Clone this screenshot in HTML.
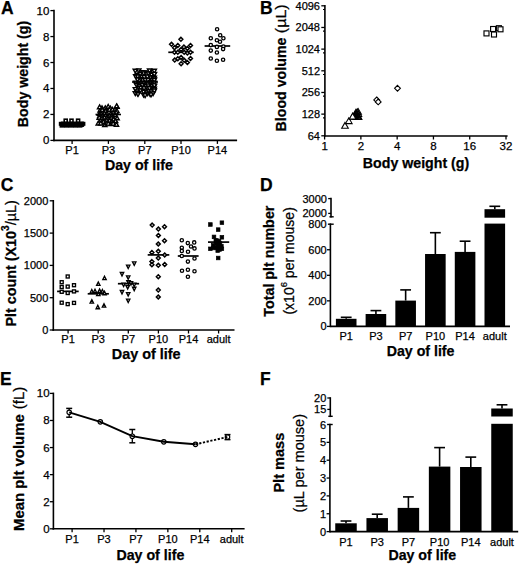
<!DOCTYPE html>
<html><head><meta charset="utf-8"><style>
html,body{margin:0;padding:0;background:#fff;}
body{width:520px;height:565px;overflow:hidden;}
svg{display:block;}
text{font-family:"Liberation Sans",sans-serif;fill:#000;stroke:#000;stroke-width:0.25px;}
line{stroke:#000;}
</style></head><body>
<svg width="520" height="565" viewBox="0 0 520 565">
<text x="1.00" y="14.30" font-size="17.5" font-weight="bold" text-anchor="start" >A</text>
<line x1="54.00" y1="10.60" x2="54.00" y2="140.40" stroke-width="1.6" stroke-linecap="square"/>
<line x1="50.40" y1="140.40" x2="54.00" y2="140.40" stroke-width="1.3" />
<text x="49.30" y="144.40" font-size="11.5" font-weight="normal" text-anchor="end" >0</text>
<line x1="50.40" y1="114.44" x2="54.00" y2="114.44" stroke-width="1.3" />
<text x="49.30" y="118.44" font-size="11.5" font-weight="normal" text-anchor="end" >2</text>
<line x1="50.40" y1="88.48" x2="54.00" y2="88.48" stroke-width="1.3" />
<text x="49.30" y="92.48" font-size="11.5" font-weight="normal" text-anchor="end" >4</text>
<line x1="50.40" y1="62.52" x2="54.00" y2="62.52" stroke-width="1.3" />
<text x="49.30" y="66.52" font-size="11.5" font-weight="normal" text-anchor="end" >6</text>
<line x1="50.40" y1="36.56" x2="54.00" y2="36.56" stroke-width="1.3" />
<text x="49.30" y="40.56" font-size="11.5" font-weight="normal" text-anchor="end" >8</text>
<line x1="50.40" y1="10.60" x2="54.00" y2="10.60" stroke-width="1.3" />
<text x="49.30" y="14.60" font-size="11.5" font-weight="normal" text-anchor="end" >10</text>
<line x1="54.00" y1="140.40" x2="236.30" y2="140.40" stroke-width="1.6" stroke-linecap="square"/>
<line x1="72.10" y1="140.40" x2="72.10" y2="143.90" stroke-width="1.3" />
<text x="72.10" y="154.00" font-size="11" font-weight="normal" text-anchor="middle" >P1</text>
<line x1="108.40" y1="140.40" x2="108.40" y2="143.90" stroke-width="1.3" />
<text x="108.40" y="154.00" font-size="11" font-weight="normal" text-anchor="middle" >P3</text>
<line x1="144.80" y1="140.40" x2="144.80" y2="143.90" stroke-width="1.3" />
<text x="144.80" y="154.00" font-size="11" font-weight="normal" text-anchor="middle" >P7</text>
<line x1="181.00" y1="140.40" x2="181.00" y2="143.90" stroke-width="1.3" />
<text x="181.00" y="154.00" font-size="11" font-weight="normal" text-anchor="middle" >P10</text>
<line x1="217.40" y1="140.40" x2="217.40" y2="143.90" stroke-width="1.3" />
<text x="217.40" y="154.00" font-size="11" font-weight="normal" text-anchor="middle" >P14</text>
<text x="138.90" y="169.60" font-size="14.2" font-weight="bold" text-anchor="middle" >Day of life</text>
<text transform="translate(27.60,127.20) rotate(-90)" font-size="14.2" font-weight="bold" text-anchor="start">Body weight (g)</text>
<rect x="60.5" y="121.6" width="23.8" height="5.3" rx="1" fill="#000"/>
<rect x="60.30" y="123.50" width="3.40" height="3.40" fill="#000" stroke="#000" stroke-width="1.5"/>
<rect x="64.80" y="123.50" width="3.40" height="3.40" fill="#000" stroke="#000" stroke-width="1.5"/>
<rect x="69.30" y="123.50" width="3.40" height="3.40" fill="#000" stroke="#000" stroke-width="1.5"/>
<rect x="73.80" y="123.50" width="3.40" height="3.40" fill="#000" stroke="#000" stroke-width="1.5"/>
<rect x="78.30" y="123.50" width="3.40" height="3.40" fill="#000" stroke="#000" stroke-width="1.5"/>
<rect x="59.50" y="122.50" width="2.60" height="2.60" fill="#000" stroke="#000" stroke-width="1.4"/>
<rect x="82.10" y="122.50" width="2.60" height="2.60" fill="#000" stroke="#000" stroke-width="1.4"/>
<rect x="64.20" y="119.20" width="3.00" height="3.00" fill="#fff" stroke="#000" stroke-width="1.6"/>
<rect x="70.00" y="119.20" width="3.00" height="3.00" fill="#fff" stroke="#000" stroke-width="1.6"/>
<rect x="76.60" y="119.20" width="3.00" height="3.00" fill="#fff" stroke="#000" stroke-width="1.6"/>
<line x1="59.00" y1="123.30" x2="85.00" y2="123.30" stroke-width="1.8" />
<path d="M101.99,105.89L104.14,109.63L99.84,109.63Z" fill="#fff" stroke="#000" stroke-width="1.4" stroke-linejoin="miter"/>
<path d="M105.30,105.79L107.45,109.53L103.15,109.53Z" fill="#fff" stroke="#000" stroke-width="1.4" stroke-linejoin="miter"/>
<path d="M108.21,104.51L110.36,108.25L106.06,108.25Z" fill="#fff" stroke="#000" stroke-width="1.4" stroke-linejoin="miter"/>
<path d="M110.34,106.15L112.49,109.89L108.19,109.89Z" fill="#fff" stroke="#000" stroke-width="1.4" stroke-linejoin="miter"/>
<path d="M117.02,104.66L119.17,108.40L114.87,108.40Z" fill="#fff" stroke="#000" stroke-width="1.4" stroke-linejoin="miter"/>
<path d="M100.18,108.24L102.33,111.98L98.03,111.98Z" fill="#fff" stroke="#000" stroke-width="1.4" stroke-linejoin="miter"/>
<path d="M102.17,107.60L104.32,111.34L100.02,111.34Z" fill="#fff" stroke="#000" stroke-width="1.4" stroke-linejoin="miter"/>
<path d="M105.60,108.85L107.75,112.60L103.45,112.60Z" fill="#fff" stroke="#000" stroke-width="1.4" stroke-linejoin="miter"/>
<path d="M109.43,107.49L111.58,111.23L107.28,111.23Z" fill="#fff" stroke="#000" stroke-width="1.4" stroke-linejoin="miter"/>
<path d="M112.43,107.46L114.58,111.20L110.28,111.20Z" fill="#fff" stroke="#000" stroke-width="1.4" stroke-linejoin="miter"/>
<path d="M115.06,107.43L117.21,111.17L112.91,111.17Z" fill="#fff" stroke="#000" stroke-width="1.4" stroke-linejoin="miter"/>
<path d="M116.90,108.77L119.05,112.51L114.75,112.51Z" fill="#fff" stroke="#000" stroke-width="1.4" stroke-linejoin="miter"/>
<path d="M99.47,111.53L101.62,115.27L97.32,115.27Z" fill="#fff" stroke="#000" stroke-width="1.4" stroke-linejoin="miter"/>
<path d="M101.17,111.69L103.32,115.43L99.02,115.43Z" fill="#fff" stroke="#000" stroke-width="1.4" stroke-linejoin="miter"/>
<path d="M104.57,111.18L106.72,114.92L102.42,114.92Z" fill="#fff" stroke="#000" stroke-width="1.4" stroke-linejoin="miter"/>
<path d="M106.92,111.65L109.07,115.39L104.77,115.39Z" fill="#fff" stroke="#000" stroke-width="1.4" stroke-linejoin="miter"/>
<path d="M110.74,111.70L112.89,115.44L108.59,115.44Z" fill="#fff" stroke="#000" stroke-width="1.4" stroke-linejoin="miter"/>
<path d="M114.06,110.49L116.21,114.23L111.91,114.23Z" fill="#fff" stroke="#000" stroke-width="1.4" stroke-linejoin="miter"/>
<path d="M116.05,110.25L118.20,114.00L113.90,114.00Z" fill="#fff" stroke="#000" stroke-width="1.4" stroke-linejoin="miter"/>
<path d="M99.74,113.79L101.89,117.53L97.59,117.53Z" fill="#fff" stroke="#000" stroke-width="1.4" stroke-linejoin="miter"/>
<path d="M102.16,113.93L104.31,117.67L100.01,117.67Z" fill="#fff" stroke="#000" stroke-width="1.4" stroke-linejoin="miter"/>
<path d="M105.71,113.26L107.86,117.00L103.56,117.00Z" fill="#fff" stroke="#000" stroke-width="1.4" stroke-linejoin="miter"/>
<path d="M109.52,113.57L111.67,117.31L107.37,117.31Z" fill="#fff" stroke="#000" stroke-width="1.4" stroke-linejoin="miter"/>
<path d="M111.57,113.57L113.72,117.31L109.42,117.31Z" fill="#fff" stroke="#000" stroke-width="1.4" stroke-linejoin="miter"/>
<path d="M115.22,112.81L117.37,116.55L113.07,116.55Z" fill="#fff" stroke="#000" stroke-width="1.4" stroke-linejoin="miter"/>
<path d="M99.22,115.49L101.37,119.23L97.07,119.23Z" fill="#fff" stroke="#000" stroke-width="1.4" stroke-linejoin="miter"/>
<path d="M102.07,116.11L104.22,119.86L99.92,119.86Z" fill="#fff" stroke="#000" stroke-width="1.4" stroke-linejoin="miter"/>
<path d="M104.64,115.47L106.79,119.21L102.49,119.21Z" fill="#fff" stroke="#000" stroke-width="1.4" stroke-linejoin="miter"/>
<path d="M106.63,115.78L108.78,119.52L104.48,119.52Z" fill="#fff" stroke="#000" stroke-width="1.4" stroke-linejoin="miter"/>
<path d="M111.22,115.81L113.37,119.55L109.07,119.55Z" fill="#fff" stroke="#000" stroke-width="1.4" stroke-linejoin="miter"/>
<path d="M113.81,117.13L115.96,120.87L111.66,120.87Z" fill="#fff" stroke="#000" stroke-width="1.4" stroke-linejoin="miter"/>
<path d="M117.10,116.08L119.25,119.82L114.95,119.82Z" fill="#fff" stroke="#000" stroke-width="1.4" stroke-linejoin="miter"/>
<path d="M100.60,118.40L102.75,122.14L98.45,122.14Z" fill="#fff" stroke="#000" stroke-width="1.4" stroke-linejoin="miter"/>
<path d="M103.50,119.64L105.65,123.38L101.35,123.38Z" fill="#fff" stroke="#000" stroke-width="1.4" stroke-linejoin="miter"/>
<path d="M106.65,118.27L108.80,122.01L104.50,122.01Z" fill="#fff" stroke="#000" stroke-width="1.4" stroke-linejoin="miter"/>
<path d="M109.75,118.37L111.90,122.11L107.60,122.11Z" fill="#fff" stroke="#000" stroke-width="1.4" stroke-linejoin="miter"/>
<path d="M111.61,119.30L113.76,123.05L109.46,123.05Z" fill="#fff" stroke="#000" stroke-width="1.4" stroke-linejoin="miter"/>
<path d="M115.60,118.82L117.75,122.56L113.45,122.56Z" fill="#fff" stroke="#000" stroke-width="1.4" stroke-linejoin="miter"/>
<path d="M98.27,121.27L100.42,125.02L96.12,125.02Z" fill="#fff" stroke="#000" stroke-width="1.4" stroke-linejoin="miter"/>
<path d="M100.79,121.22L102.94,124.96L98.64,124.96Z" fill="#fff" stroke="#000" stroke-width="1.4" stroke-linejoin="miter"/>
<path d="M104.84,122.75L106.99,126.49L102.69,126.49Z" fill="#fff" stroke="#000" stroke-width="1.4" stroke-linejoin="miter"/>
<path d="M106.84,121.04L108.99,124.78L104.69,124.78Z" fill="#fff" stroke="#000" stroke-width="1.4" stroke-linejoin="miter"/>
<path d="M111.28,121.92L113.43,125.66L109.13,125.66Z" fill="#fff" stroke="#000" stroke-width="1.4" stroke-linejoin="miter"/>
<path d="M113.18,121.38L115.33,125.12L111.03,125.12Z" fill="#fff" stroke="#000" stroke-width="1.4" stroke-linejoin="miter"/>
<path d="M116.47,122.44L118.62,126.18L114.32,126.18Z" fill="#fff" stroke="#000" stroke-width="1.4" stroke-linejoin="miter"/>
<path d="M99.60,104.96L101.75,108.70L97.45,108.70Z" fill="#fff" stroke="#000" stroke-width="1.4" stroke-linejoin="miter"/>
<path d="M116.60,103.96L118.75,107.70L114.45,107.70Z" fill="#fff" stroke="#000" stroke-width="1.4" stroke-linejoin="miter"/>
<path d="M108.20,121.36L110.35,125.10L106.05,125.10Z" fill="#fff" stroke="#000" stroke-width="1.4" stroke-linejoin="miter"/>
<line x1="95.50" y1="114.50" x2="121.00" y2="114.50" stroke-width="1.6" />
<path d="M135.28,72.92L137.43,69.18L133.13,69.18Z" fill="#fff" stroke="#000" stroke-width="1.4" stroke-linejoin="miter"/>
<path d="M138.82,72.77L140.97,69.03L136.67,69.03Z" fill="#fff" stroke="#000" stroke-width="1.4" stroke-linejoin="miter"/>
<path d="M141.56,74.50L143.71,70.76L139.41,70.76Z" fill="#fff" stroke="#000" stroke-width="1.4" stroke-linejoin="miter"/>
<path d="M143.65,74.76L145.80,71.02L141.50,71.02Z" fill="#fff" stroke="#000" stroke-width="1.4" stroke-linejoin="miter"/>
<path d="M146.57,74.63L148.72,70.88L144.42,70.88Z" fill="#fff" stroke="#000" stroke-width="1.4" stroke-linejoin="miter"/>
<path d="M149.58,72.81L151.73,69.07L147.43,69.07Z" fill="#fff" stroke="#000" stroke-width="1.4" stroke-linejoin="miter"/>
<path d="M153.16,74.13L155.31,70.39L151.01,70.39Z" fill="#fff" stroke="#000" stroke-width="1.4" stroke-linejoin="miter"/>
<path d="M154.30,73.05L156.45,69.31L152.15,69.31Z" fill="#fff" stroke="#000" stroke-width="1.4" stroke-linejoin="miter"/>
<path d="M137.33,77.20L139.48,73.46L135.18,73.46Z" fill="#fff" stroke="#000" stroke-width="1.4" stroke-linejoin="miter"/>
<path d="M140.19,76.21L142.34,72.47L138.04,72.47Z" fill="#fff" stroke="#000" stroke-width="1.4" stroke-linejoin="miter"/>
<path d="M143.86,75.58L146.01,71.84L141.71,71.84Z" fill="#fff" stroke="#000" stroke-width="1.4" stroke-linejoin="miter"/>
<path d="M146.60,76.02L148.75,72.27L144.45,72.27Z" fill="#fff" stroke="#000" stroke-width="1.4" stroke-linejoin="miter"/>
<path d="M148.26,75.71L150.41,71.97L146.11,71.97Z" fill="#fff" stroke="#000" stroke-width="1.4" stroke-linejoin="miter"/>
<path d="M151.51,76.96L153.66,73.22L149.36,73.22Z" fill="#fff" stroke="#000" stroke-width="1.4" stroke-linejoin="miter"/>
<path d="M154.23,76.54L156.38,72.80L152.08,72.80Z" fill="#fff" stroke="#000" stroke-width="1.4" stroke-linejoin="miter"/>
<path d="M154.30,76.16L156.45,72.42L152.15,72.42Z" fill="#fff" stroke="#000" stroke-width="1.4" stroke-linejoin="miter"/>
<path d="M135.69,78.46L137.84,74.72L133.54,74.72Z" fill="#fff" stroke="#000" stroke-width="1.4" stroke-linejoin="miter"/>
<path d="M137.76,78.72L139.91,74.97L135.61,74.97Z" fill="#fff" stroke="#000" stroke-width="1.4" stroke-linejoin="miter"/>
<path d="M141.82,79.11L143.97,75.37L139.67,75.37Z" fill="#fff" stroke="#000" stroke-width="1.4" stroke-linejoin="miter"/>
<path d="M144.12,79.40L146.27,75.66L141.97,75.66Z" fill="#fff" stroke="#000" stroke-width="1.4" stroke-linejoin="miter"/>
<path d="M147.32,78.88L149.47,75.14L145.17,75.14Z" fill="#fff" stroke="#000" stroke-width="1.4" stroke-linejoin="miter"/>
<path d="M150.88,79.60L153.03,75.86L148.73,75.86Z" fill="#fff" stroke="#000" stroke-width="1.4" stroke-linejoin="miter"/>
<path d="M152.84,79.38L154.99,75.64L150.69,75.64Z" fill="#fff" stroke="#000" stroke-width="1.4" stroke-linejoin="miter"/>
<path d="M154.30,79.92L156.45,76.18L152.15,76.18Z" fill="#fff" stroke="#000" stroke-width="1.4" stroke-linejoin="miter"/>
<path d="M137.51,81.71L139.66,77.97L135.36,77.97Z" fill="#fff" stroke="#000" stroke-width="1.4" stroke-linejoin="miter"/>
<path d="M140.91,81.41L143.06,77.67L138.76,77.67Z" fill="#fff" stroke="#000" stroke-width="1.4" stroke-linejoin="miter"/>
<path d="M142.85,82.56L145.00,78.82L140.70,78.82Z" fill="#fff" stroke="#000" stroke-width="1.4" stroke-linejoin="miter"/>
<path d="M145.32,82.07L147.47,78.33L143.17,78.33Z" fill="#fff" stroke="#000" stroke-width="1.4" stroke-linejoin="miter"/>
<path d="M148.07,82.40L150.22,78.66L145.92,78.66Z" fill="#fff" stroke="#000" stroke-width="1.4" stroke-linejoin="miter"/>
<path d="M152.33,82.23L154.48,78.49L150.18,78.49Z" fill="#fff" stroke="#000" stroke-width="1.4" stroke-linejoin="miter"/>
<path d="M154.30,81.76L156.45,78.02L152.15,78.02Z" fill="#fff" stroke="#000" stroke-width="1.4" stroke-linejoin="miter"/>
<path d="M154.30,82.26L156.45,78.52L152.15,78.52Z" fill="#fff" stroke="#000" stroke-width="1.4" stroke-linejoin="miter"/>
<path d="M135.74,84.87L137.89,81.12L133.59,81.12Z" fill="#fff" stroke="#000" stroke-width="1.4" stroke-linejoin="miter"/>
<path d="M139.16,85.75L141.31,82.00L137.01,82.00Z" fill="#fff" stroke="#000" stroke-width="1.4" stroke-linejoin="miter"/>
<path d="M141.45,85.24L143.60,81.50L139.30,81.50Z" fill="#fff" stroke="#000" stroke-width="1.4" stroke-linejoin="miter"/>
<path d="M143.66,85.31L145.81,81.57L141.51,81.57Z" fill="#fff" stroke="#000" stroke-width="1.4" stroke-linejoin="miter"/>
<path d="M147.66,85.83L149.81,82.09L145.51,82.09Z" fill="#fff" stroke="#000" stroke-width="1.4" stroke-linejoin="miter"/>
<path d="M150.93,84.56L153.08,80.82L148.78,80.82Z" fill="#fff" stroke="#000" stroke-width="1.4" stroke-linejoin="miter"/>
<path d="M153.09,85.25L155.24,81.51L150.94,81.51Z" fill="#fff" stroke="#000" stroke-width="1.4" stroke-linejoin="miter"/>
<path d="M154.30,84.88L156.45,81.13L152.15,81.13Z" fill="#fff" stroke="#000" stroke-width="1.4" stroke-linejoin="miter"/>
<path d="M136.50,87.11L138.65,83.36L134.35,83.36Z" fill="#fff" stroke="#000" stroke-width="1.4" stroke-linejoin="miter"/>
<path d="M139.26,88.28L141.41,84.54L137.11,84.54Z" fill="#fff" stroke="#000" stroke-width="1.4" stroke-linejoin="miter"/>
<path d="M142.33,87.34L144.48,83.60L140.18,83.60Z" fill="#fff" stroke="#000" stroke-width="1.4" stroke-linejoin="miter"/>
<path d="M145.75,88.46L147.90,84.72L143.60,84.72Z" fill="#fff" stroke="#000" stroke-width="1.4" stroke-linejoin="miter"/>
<path d="M148.15,87.70L150.30,83.96L146.00,83.96Z" fill="#fff" stroke="#000" stroke-width="1.4" stroke-linejoin="miter"/>
<path d="M151.94,88.48L154.09,84.74L149.79,84.74Z" fill="#fff" stroke="#000" stroke-width="1.4" stroke-linejoin="miter"/>
<path d="M154.30,88.45L156.45,84.71L152.15,84.71Z" fill="#fff" stroke="#000" stroke-width="1.4" stroke-linejoin="miter"/>
<path d="M154.30,87.64L156.45,83.90L152.15,83.90Z" fill="#fff" stroke="#000" stroke-width="1.4" stroke-linejoin="miter"/>
<path d="M135.35,91.34L137.50,87.60L133.20,87.60Z" fill="#fff" stroke="#000" stroke-width="1.4" stroke-linejoin="miter"/>
<path d="M139.37,90.02L141.52,86.28L137.22,86.28Z" fill="#fff" stroke="#000" stroke-width="1.4" stroke-linejoin="miter"/>
<path d="M140.92,90.16L143.07,86.42L138.77,86.42Z" fill="#fff" stroke="#000" stroke-width="1.4" stroke-linejoin="miter"/>
<path d="M143.97,90.62L146.12,86.88L141.82,86.88Z" fill="#fff" stroke="#000" stroke-width="1.4" stroke-linejoin="miter"/>
<path d="M147.56,90.22L149.71,86.48L145.41,86.48Z" fill="#fff" stroke="#000" stroke-width="1.4" stroke-linejoin="miter"/>
<path d="M149.46,90.50L151.61,86.76L147.31,86.76Z" fill="#fff" stroke="#000" stroke-width="1.4" stroke-linejoin="miter"/>
<path d="M153.06,90.76L155.21,87.02L150.91,87.02Z" fill="#fff" stroke="#000" stroke-width="1.4" stroke-linejoin="miter"/>
<path d="M154.30,90.99L156.45,87.25L152.15,87.25Z" fill="#fff" stroke="#000" stroke-width="1.4" stroke-linejoin="miter"/>
<path d="M137.13,93.71L139.28,89.97L134.98,89.97Z" fill="#fff" stroke="#000" stroke-width="1.4" stroke-linejoin="miter"/>
<path d="M140.37,92.69L142.52,88.95L138.22,88.95Z" fill="#fff" stroke="#000" stroke-width="1.4" stroke-linejoin="miter"/>
<path d="M143.72,94.00L145.87,90.26L141.57,90.26Z" fill="#fff" stroke="#000" stroke-width="1.4" stroke-linejoin="miter"/>
<path d="M146.62,94.03L148.77,90.29L144.47,90.29Z" fill="#fff" stroke="#000" stroke-width="1.4" stroke-linejoin="miter"/>
<path d="M148.71,93.31L150.86,89.57L146.56,89.57Z" fill="#fff" stroke="#000" stroke-width="1.4" stroke-linejoin="miter"/>
<path d="M151.14,93.74L153.29,90.00L148.99,90.00Z" fill="#fff" stroke="#000" stroke-width="1.4" stroke-linejoin="miter"/>
<path d="M154.01,92.72L156.16,88.97L151.86,88.97Z" fill="#fff" stroke="#000" stroke-width="1.4" stroke-linejoin="miter"/>
<path d="M154.30,92.89L156.45,89.15L152.15,89.15Z" fill="#fff" stroke="#000" stroke-width="1.4" stroke-linejoin="miter"/>
<path d="M135.31,95.54L137.46,91.80L133.16,91.80Z" fill="#fff" stroke="#000" stroke-width="1.4" stroke-linejoin="miter"/>
<path d="M137.65,95.72L139.80,91.98L135.50,91.98Z" fill="#fff" stroke="#000" stroke-width="1.4" stroke-linejoin="miter"/>
<path d="M143.60,97.02L145.75,93.28L141.45,93.28Z" fill="#fff" stroke="#000" stroke-width="1.4" stroke-linejoin="miter"/>
<path d="M147.61,95.71L149.76,91.97L145.46,91.97Z" fill="#fff" stroke="#000" stroke-width="1.4" stroke-linejoin="miter"/>
<path d="M149.90,96.07L152.05,92.33L147.75,92.33Z" fill="#fff" stroke="#000" stroke-width="1.4" stroke-linejoin="miter"/>
<path d="M153.06,95.67L155.21,91.92L150.91,91.92Z" fill="#fff" stroke="#000" stroke-width="1.4" stroke-linejoin="miter"/>
<path d="M145.10,97.64L147.25,93.90L142.95,93.90Z" fill="#fff" stroke="#000" stroke-width="1.4" stroke-linejoin="miter"/>
<path d="M138.00,96.44L140.15,92.70L135.85,92.70Z" fill="#fff" stroke="#000" stroke-width="1.4" stroke-linejoin="miter"/>
<path d="M151.00,96.84L153.15,93.10L148.85,93.10Z" fill="#fff" stroke="#000" stroke-width="1.4" stroke-linejoin="miter"/>
<line x1="132.00" y1="82.00" x2="158.00" y2="82.00" stroke-width="1.6" />
<line x1="168.30" y1="52.30" x2="193.70" y2="52.30" stroke-width="1.7" />
<path d="M180.90,37.35L182.85,39.30L180.90,41.25L178.95,39.30Z" fill="#fff" stroke="#000" stroke-width="1.45"/>
<path d="M171.50,42.35L173.45,44.30L171.50,46.25L169.55,44.30Z" fill="#fff" stroke="#000" stroke-width="1.45"/>
<path d="M177.80,43.55L179.75,45.50L177.80,47.45L175.85,45.50Z" fill="#fff" stroke="#000" stroke-width="1.45"/>
<path d="M190.50,43.55L192.45,45.50L190.50,47.45L188.55,45.50Z" fill="#fff" stroke="#000" stroke-width="1.45"/>
<path d="M174.50,45.85L176.45,47.80L174.50,49.75L172.55,47.80Z" fill="#fff" stroke="#000" stroke-width="1.45"/>
<path d="M183.90,45.05L185.85,47.00L183.90,48.95L181.95,47.00Z" fill="#fff" stroke="#000" stroke-width="1.45"/>
<path d="M187.40,46.45L189.35,48.40L187.40,50.35L185.45,48.40Z" fill="#fff" stroke="#000" stroke-width="1.45"/>
<path d="M181.10,47.55L183.05,49.50L181.10,51.45L179.15,49.50Z" fill="#fff" stroke="#000" stroke-width="1.45"/>
<path d="M174.50,50.35L176.45,52.30L174.50,54.25L172.55,52.30Z" fill="#fff" stroke="#000" stroke-width="1.45"/>
<path d="M177.80,50.35L179.75,52.30L177.80,54.25L175.85,52.30Z" fill="#fff" stroke="#000" stroke-width="1.45"/>
<path d="M184.20,50.35L186.15,52.30L184.20,54.25L182.25,52.30Z" fill="#fff" stroke="#000" stroke-width="1.45"/>
<path d="M187.40,51.05L189.35,53.00L187.40,54.95L185.45,53.00Z" fill="#fff" stroke="#000" stroke-width="1.45"/>
<path d="M190.50,50.35L192.45,52.30L190.50,54.25L188.55,52.30Z" fill="#fff" stroke="#000" stroke-width="1.45"/>
<path d="M177.80,56.85L179.75,58.80L177.80,60.75L175.85,58.80Z" fill="#fff" stroke="#000" stroke-width="1.45"/>
<path d="M174.70,58.05L176.65,60.00L174.70,61.95L172.75,60.00Z" fill="#fff" stroke="#000" stroke-width="1.45"/>
<path d="M181.10,55.45L183.05,57.40L181.10,59.35L179.15,57.40Z" fill="#fff" stroke="#000" stroke-width="1.45"/>
<path d="M184.20,58.35L186.15,60.30L184.20,62.25L182.25,60.30Z" fill="#fff" stroke="#000" stroke-width="1.45"/>
<path d="M190.50,56.55L192.45,58.50L190.50,60.45L188.55,58.50Z" fill="#fff" stroke="#000" stroke-width="1.45"/>
<path d="M187.40,60.65L189.35,62.60L187.40,64.55L185.45,62.60Z" fill="#fff" stroke="#000" stroke-width="1.45"/>
<path d="M181.10,61.75L183.05,63.70L181.10,65.65L179.15,63.70Z" fill="#fff" stroke="#000" stroke-width="1.45"/>
<line x1="204.60" y1="46.00" x2="230.20" y2="46.00" stroke-width="1.7" />
<circle cx="217.10" cy="29.30" r="1.65" fill="#fff" stroke="#000" stroke-width="1.35"/>
<circle cx="220.20" cy="35.20" r="1.65" fill="#fff" stroke="#000" stroke-width="1.35"/>
<circle cx="210.80" cy="38.30" r="1.65" fill="#fff" stroke="#000" stroke-width="1.35"/>
<circle cx="223.40" cy="38.30" r="1.65" fill="#fff" stroke="#000" stroke-width="1.35"/>
<circle cx="216.90" cy="40.30" r="1.65" fill="#fff" stroke="#000" stroke-width="1.35"/>
<circle cx="220.00" cy="41.80" r="1.65" fill="#fff" stroke="#000" stroke-width="1.35"/>
<circle cx="210.80" cy="45.10" r="1.65" fill="#fff" stroke="#000" stroke-width="1.35"/>
<circle cx="216.90" cy="46.90" r="1.65" fill="#fff" stroke="#000" stroke-width="1.35"/>
<circle cx="223.40" cy="46.60" r="1.65" fill="#fff" stroke="#000" stroke-width="1.35"/>
<circle cx="223.10" cy="49.10" r="1.65" fill="#fff" stroke="#000" stroke-width="1.35"/>
<circle cx="210.80" cy="50.60" r="1.65" fill="#fff" stroke="#000" stroke-width="1.35"/>
<circle cx="216.90" cy="52.50" r="1.65" fill="#fff" stroke="#000" stroke-width="1.35"/>
<circle cx="210.80" cy="58.50" r="1.65" fill="#fff" stroke="#000" stroke-width="1.35"/>
<circle cx="216.90" cy="60.80" r="1.65" fill="#fff" stroke="#000" stroke-width="1.35"/>
<circle cx="223.10" cy="59.70" r="1.65" fill="#fff" stroke="#000" stroke-width="1.35"/>
<text x="260.10" y="13.80" font-size="17.5" font-weight="bold" text-anchor="start" >B</text>
<line x1="324.90" y1="5.80" x2="324.90" y2="135.80" stroke-width="1.6" stroke-linecap="square"/>
<line x1="321.30" y1="135.80" x2="324.90" y2="135.80" stroke-width="1.3" />
<text x="320.00" y="139.80" font-size="11" font-weight="normal" text-anchor="end" >64</text>
<line x1="321.30" y1="114.13" x2="324.90" y2="114.13" stroke-width="1.3" />
<text x="320.00" y="118.13" font-size="11" font-weight="normal" text-anchor="end" >128</text>
<line x1="321.30" y1="92.47" x2="324.90" y2="92.47" stroke-width="1.3" />
<text x="320.00" y="96.47" font-size="11" font-weight="normal" text-anchor="end" >256</text>
<line x1="321.30" y1="70.80" x2="324.90" y2="70.80" stroke-width="1.3" />
<text x="320.00" y="74.80" font-size="11" font-weight="normal" text-anchor="end" >512</text>
<line x1="321.30" y1="49.13" x2="324.90" y2="49.13" stroke-width="1.3" />
<text x="320.00" y="53.13" font-size="11" font-weight="normal" text-anchor="end" >1024</text>
<line x1="321.30" y1="27.47" x2="324.90" y2="27.47" stroke-width="1.3" />
<text x="320.00" y="31.47" font-size="11" font-weight="normal" text-anchor="end" >2048</text>
<line x1="321.30" y1="5.80" x2="324.90" y2="5.80" stroke-width="1.3" />
<text x="320.00" y="9.80" font-size="11" font-weight="normal" text-anchor="end" >4096</text>
<line x1="323.00" y1="117.83" x2="324.90" y2="117.83" stroke-width="1.1" />
<line x1="323.00" y1="96.17" x2="324.90" y2="96.17" stroke-width="1.1" />
<line x1="323.00" y1="74.50" x2="324.90" y2="74.50" stroke-width="1.1" />
<line x1="323.00" y1="52.83" x2="324.90" y2="52.83" stroke-width="1.1" />
<line x1="323.00" y1="31.17" x2="324.90" y2="31.17" stroke-width="1.1" />
<line x1="323.00" y1="9.50" x2="324.90" y2="9.50" stroke-width="1.1" />
<line x1="324.90" y1="136.00" x2="506.80" y2="136.00" stroke-width="1.6" stroke-linecap="square"/>
<line x1="324.60" y1="136.00" x2="324.60" y2="139.50" stroke-width="1.3" />
<text x="324.60" y="150.20" font-size="11.5" font-weight="normal" text-anchor="middle" >1</text>
<line x1="360.88" y1="136.00" x2="360.88" y2="139.50" stroke-width="1.3" />
<text x="360.88" y="150.20" font-size="11.5" font-weight="normal" text-anchor="middle" >2</text>
<line x1="397.16" y1="136.00" x2="397.16" y2="139.50" stroke-width="1.3" />
<text x="397.16" y="150.20" font-size="11.5" font-weight="normal" text-anchor="middle" >4</text>
<line x1="433.44" y1="136.00" x2="433.44" y2="139.50" stroke-width="1.3" />
<text x="433.44" y="150.20" font-size="11.5" font-weight="normal" text-anchor="middle" >8</text>
<line x1="469.72" y1="136.00" x2="469.72" y2="139.50" stroke-width="1.3" />
<text x="469.72" y="150.20" font-size="11.5" font-weight="normal" text-anchor="middle" >16</text>
<line x1="506.00" y1="136.00" x2="506.00" y2="139.50" stroke-width="1.3" />
<text x="506.00" y="150.20" font-size="11.5" font-weight="normal" text-anchor="middle" >32</text>
<text x="416.00" y="168.00" font-size="14.2" font-weight="bold" text-anchor="middle" >Body weight (g)</text>
<text transform="translate(286.40,131.40) rotate(-90)" font-size="14.2" font-weight="bold" text-anchor="start">Blood volume</text>
<text transform="translate(286.40,33.20) rotate(-90) scale(1.13,1)" font-size="14.2" font-weight="normal" text-anchor="start">(&#181;L)</text>
<path d="M345.00,122.45L348.30,128.20L341.70,128.20Z" fill="#fff" stroke="#000" stroke-width="1.1" stroke-linejoin="miter"/>
<path d="M348.80,117.85L352.10,123.60L345.50,123.60Z" fill="#fff" stroke="#000" stroke-width="1.1" stroke-linejoin="miter"/>
<path d="M352.80,113.15L356.10,118.90L349.50,118.90Z" fill="none" stroke="#000" stroke-width="1.1" stroke-linejoin="miter"/>
<path d="M355.00,111.55L358.30,117.30L351.70,117.30Z" fill="none" stroke="#000" stroke-width="1.1" stroke-linejoin="miter"/>
<path d="M356.20,113.75L359.50,119.50L352.90,119.50Z" fill="none" stroke="#000" stroke-width="1.1" stroke-linejoin="miter"/>
<path d="M357.20,108.95L360.50,114.70L353.90,114.70Z" fill="none" stroke="#000" stroke-width="1.1" stroke-linejoin="miter"/>
<path d="M357.60,112.15L360.90,117.90L354.30,117.90Z" fill="none" stroke="#000" stroke-width="1.1" stroke-linejoin="miter"/>
<path d="M358.40,110.75L361.70,116.50L355.10,116.50Z" fill="none" stroke="#000" stroke-width="1.1" stroke-linejoin="miter"/>
<path d="M354.60,112.85L357.90,118.60L351.30,118.60Z" fill="none" stroke="#000" stroke-width="1.1" stroke-linejoin="miter"/>
<path d="M356.60,110.35L359.90,116.10L353.30,116.10Z" fill="none" stroke="#000" stroke-width="1.1" stroke-linejoin="miter"/>
<path d="M357.90,113.35L361.20,119.10L354.60,119.10Z" fill="none" stroke="#000" stroke-width="1.1" stroke-linejoin="miter"/>
<path d="M355.90,109.45L359.20,115.20L352.60,115.20Z" fill="none" stroke="#000" stroke-width="1.1" stroke-linejoin="miter"/>
<path d="M358.10,108.55L361.40,114.30L354.80,114.30Z" fill="none" stroke="#000" stroke-width="1.1" stroke-linejoin="miter"/>
<path d="M356.90,111.55L360.20,117.30L353.60,117.30Z" fill="none" stroke="#000" stroke-width="1.1" stroke-linejoin="miter"/>
<path d="M358.60,113.75L361.90,119.50L355.30,119.50Z" fill="none" stroke="#000" stroke-width="1.1" stroke-linejoin="miter"/>
<path d="M352.60,113.35L355.90,119.10L349.30,119.10Z" fill="#fff" stroke="#000" stroke-width="1.1" stroke-linejoin="miter"/>
<path d="M376.70,97.00L379.60,99.90L376.70,102.80L373.80,99.90Z" fill="#fff" stroke="#000" stroke-width="1.1"/>
<path d="M378.20,99.00L381.10,101.90L378.20,104.80L375.30,101.90Z" fill="#fff" stroke="#000" stroke-width="1.1"/>
<path d="M397.50,85.40L400.40,88.30L397.50,91.20L394.60,88.30Z" fill="#fff" stroke="#000" stroke-width="1.1"/>
<rect x="484.00" y="30.90" width="5.00" height="5.00" fill="#fff" stroke="#000" stroke-width="1.15"/>
<rect x="490.60" y="26.50" width="5.00" height="5.00" fill="#fff" stroke="#000" stroke-width="1.15"/>
<rect x="491.50" y="32.00" width="5.00" height="5.00" fill="#fff" stroke="#000" stroke-width="1.15"/>
<rect x="496.40" y="25.70" width="5.00" height="5.00" fill="#fff" stroke="#000" stroke-width="1.15"/>
<rect x="498.00" y="26.80" width="5.00" height="5.00" fill="#fff" stroke="#000" stroke-width="1.15"/>
<text x="0.80" y="191.40" font-size="17.5" font-weight="bold" text-anchor="start" >C</text>
<line x1="53.30" y1="200.80" x2="53.30" y2="330.00" stroke-width="1.6" stroke-linecap="square"/>
<line x1="49.70" y1="330.00" x2="53.30" y2="330.00" stroke-width="1.3" />
<text x="48.30" y="334.00" font-size="11" font-weight="normal" text-anchor="end" >0</text>
<line x1="49.70" y1="297.70" x2="53.30" y2="297.70" stroke-width="1.3" />
<text x="48.30" y="301.70" font-size="11" font-weight="normal" text-anchor="end" >500</text>
<line x1="49.70" y1="265.40" x2="53.30" y2="265.40" stroke-width="1.3" />
<text x="48.30" y="269.40" font-size="11" font-weight="normal" text-anchor="end" >1000</text>
<line x1="49.70" y1="233.10" x2="53.30" y2="233.10" stroke-width="1.3" />
<text x="48.30" y="237.10" font-size="11" font-weight="normal" text-anchor="end" >1500</text>
<line x1="49.70" y1="200.80" x2="53.30" y2="200.80" stroke-width="1.3" />
<text x="48.30" y="204.80" font-size="11" font-weight="normal" text-anchor="end" >2000</text>
<line x1="53.30" y1="330.00" x2="233.70" y2="330.00" stroke-width="1.6" stroke-linecap="square"/>
<line x1="68.10" y1="330.00" x2="68.10" y2="333.50" stroke-width="1.3" />
<text x="68.10" y="343.00" font-size="11" font-weight="normal" text-anchor="middle" >P1</text>
<line x1="98.20" y1="330.00" x2="98.20" y2="333.50" stroke-width="1.3" />
<text x="98.20" y="343.00" font-size="11" font-weight="normal" text-anchor="middle" >P3</text>
<line x1="128.30" y1="330.00" x2="128.30" y2="333.50" stroke-width="1.3" />
<text x="128.30" y="343.00" font-size="11" font-weight="normal" text-anchor="middle" >P7</text>
<line x1="158.40" y1="330.00" x2="158.40" y2="333.50" stroke-width="1.3" />
<text x="158.40" y="343.00" font-size="11" font-weight="normal" text-anchor="middle" >P10</text>
<line x1="188.50" y1="330.00" x2="188.50" y2="333.50" stroke-width="1.3" />
<text x="188.50" y="343.00" font-size="11" font-weight="normal" text-anchor="middle" >P14</text>
<line x1="218.60" y1="330.00" x2="218.60" y2="333.50" stroke-width="1.3" />
<text x="218.60" y="343.00" font-size="11" font-weight="normal" text-anchor="middle" >adult</text>
<text x="146.20" y="358.70" font-size="14.4" font-weight="bold" text-anchor="middle" >Day of life</text>
<text transform="translate(15.60,326.60) rotate(-90) scale(1.011,1)" font-size="14.2" font-weight="bold" text-anchor="start">Plt count (X10<tspan font-size="10" dy="-7">3</tspan><tspan dy="7" font-weight="normal">/&#181;L)</tspan></text>
<line x1="57.10" y1="291.40" x2="78.70" y2="291.40" stroke-width="1.7" />
<rect x="66.20" y="275.00" width="3.00" height="3.00" fill="#fff" stroke="#000" stroke-width="1.35"/>
<rect x="60.20" y="280.70" width="3.00" height="3.00" fill="#fff" stroke="#000" stroke-width="1.35"/>
<rect x="60.20" y="285.50" width="3.00" height="3.00" fill="#fff" stroke="#000" stroke-width="1.35"/>
<rect x="66.20" y="285.10" width="3.00" height="3.00" fill="#fff" stroke="#000" stroke-width="1.35"/>
<rect x="72.50" y="283.70" width="3.00" height="3.00" fill="#fff" stroke="#000" stroke-width="1.35"/>
<rect x="60.20" y="290.30" width="3.00" height="3.00" fill="#fff" stroke="#000" stroke-width="1.35"/>
<rect x="66.20" y="291.50" width="3.00" height="3.00" fill="#fff" stroke="#000" stroke-width="1.35"/>
<rect x="72.50" y="289.90" width="3.00" height="3.00" fill="#fff" stroke="#000" stroke-width="1.35"/>
<rect x="60.20" y="301.20" width="3.00" height="3.00" fill="#fff" stroke="#000" stroke-width="1.35"/>
<rect x="66.20" y="302.60" width="3.00" height="3.00" fill="#fff" stroke="#000" stroke-width="1.35"/>
<rect x="72.50" y="301.40" width="3.00" height="3.00" fill="#fff" stroke="#000" stroke-width="1.35"/>
<line x1="87.70" y1="293.80" x2="108.90" y2="293.80" stroke-width="1.7" />
<path d="M104.50,276.26L106.20,279.66L102.80,279.66Z" fill="#fff" stroke="#000" stroke-width="1.35" stroke-linejoin="miter"/>
<path d="M98.30,281.96L100.00,285.36L96.60,285.36Z" fill="#fff" stroke="#000" stroke-width="1.35" stroke-linejoin="miter"/>
<path d="M91.80,289.56L93.50,292.96L90.10,292.96Z" fill="#fff" stroke="#000" stroke-width="1.35" stroke-linejoin="miter"/>
<path d="M95.00,289.36L96.70,292.76L93.30,292.76Z" fill="#fff" stroke="#000" stroke-width="1.35" stroke-linejoin="miter"/>
<path d="M99.60,288.96L101.30,292.36L97.90,292.36Z" fill="#fff" stroke="#000" stroke-width="1.35" stroke-linejoin="miter"/>
<path d="M102.40,289.56L104.10,292.96L100.70,292.96Z" fill="#fff" stroke="#000" stroke-width="1.35" stroke-linejoin="miter"/>
<path d="M98.30,292.26L100.00,295.66L96.60,295.66Z" fill="#fff" stroke="#000" stroke-width="1.35" stroke-linejoin="miter"/>
<path d="M104.50,291.36L106.20,294.76L102.80,294.76Z" fill="#fff" stroke="#000" stroke-width="1.35" stroke-linejoin="miter"/>
<path d="M91.80,299.66L93.50,303.06L90.10,303.06Z" fill="#fff" stroke="#000" stroke-width="1.35" stroke-linejoin="miter"/>
<path d="M97.80,305.36L99.50,308.76L96.10,308.76Z" fill="#fff" stroke="#000" stroke-width="1.35" stroke-linejoin="miter"/>
<path d="M104.00,303.76L105.70,307.16L102.30,307.16Z" fill="#fff" stroke="#000" stroke-width="1.35" stroke-linejoin="miter"/>
<line x1="117.90" y1="283.70" x2="139.10" y2="283.70" stroke-width="1.7" />
<path d="M134.20,265.34L135.90,261.94L132.50,261.94Z" fill="#fff" stroke="#000" stroke-width="1.35" stroke-linejoin="miter"/>
<path d="M128.20,268.54L129.90,265.14L126.50,265.14Z" fill="#fff" stroke="#000" stroke-width="1.35" stroke-linejoin="miter"/>
<path d="M122.00,275.94L123.70,272.54L120.30,272.54Z" fill="#fff" stroke="#000" stroke-width="1.35" stroke-linejoin="miter"/>
<path d="M128.20,279.24L129.90,275.84L126.50,275.84Z" fill="#fff" stroke="#000" stroke-width="1.35" stroke-linejoin="miter"/>
<path d="M123.60,286.54L125.30,283.14L121.90,283.14Z" fill="#fff" stroke="#000" stroke-width="1.35" stroke-linejoin="miter"/>
<path d="M128.50,284.14L130.20,280.74L126.80,280.74Z" fill="#fff" stroke="#000" stroke-width="1.35" stroke-linejoin="miter"/>
<path d="M131.00,285.04L132.70,281.64L129.30,281.64Z" fill="#fff" stroke="#000" stroke-width="1.35" stroke-linejoin="miter"/>
<path d="M134.20,286.54L135.90,283.14L132.50,283.14Z" fill="#fff" stroke="#000" stroke-width="1.35" stroke-linejoin="miter"/>
<path d="M127.70,289.04L129.40,285.64L126.00,285.64Z" fill="#fff" stroke="#000" stroke-width="1.35" stroke-linejoin="miter"/>
<path d="M134.20,290.64L135.90,287.24L132.50,287.24Z" fill="#fff" stroke="#000" stroke-width="1.35" stroke-linejoin="miter"/>
<path d="M122.00,293.94L123.70,290.54L120.30,290.54Z" fill="#fff" stroke="#000" stroke-width="1.35" stroke-linejoin="miter"/>
<path d="M128.20,296.04L129.90,292.64L126.50,292.64Z" fill="#fff" stroke="#000" stroke-width="1.35" stroke-linejoin="miter"/>
<path d="M128.20,302.54L129.90,299.14L126.50,299.14Z" fill="#fff" stroke="#000" stroke-width="1.35" stroke-linejoin="miter"/>
<line x1="147.70" y1="254.90" x2="169.30" y2="254.90" stroke-width="1.7" />
<path d="M152.20,223.15L154.15,225.10L152.20,227.05L150.25,225.10Z" fill="#fff" stroke="#000" stroke-width="1.45"/>
<path d="M158.40,227.05L160.35,229.00L158.40,230.95L156.45,229.00Z" fill="#fff" stroke="#000" stroke-width="1.45"/>
<path d="M164.50,224.75L166.45,226.70L164.50,228.65L162.55,226.70Z" fill="#fff" stroke="#000" stroke-width="1.45"/>
<path d="M158.40,233.45L160.35,235.40L158.40,237.35L156.45,235.40Z" fill="#fff" stroke="#000" stroke-width="1.45"/>
<path d="M164.50,238.85L166.45,240.80L164.50,242.75L162.55,240.80Z" fill="#fff" stroke="#000" stroke-width="1.45"/>
<path d="M158.30,241.95L160.25,243.90L158.30,245.85L156.35,243.90Z" fill="#fff" stroke="#000" stroke-width="1.45"/>
<path d="M151.90,250.55L153.85,252.50L151.90,254.45L149.95,252.50Z" fill="#fff" stroke="#000" stroke-width="1.45"/>
<path d="M158.30,249.25L160.25,251.20L158.30,253.15L156.35,251.20Z" fill="#fff" stroke="#000" stroke-width="1.45"/>
<path d="M164.70,252.95L166.65,254.90L164.70,256.85L162.75,254.90Z" fill="#fff" stroke="#000" stroke-width="1.45"/>
<path d="M158.30,256.05L160.25,258.00L158.30,259.95L156.35,258.00Z" fill="#fff" stroke="#000" stroke-width="1.45"/>
<path d="M151.90,259.65L153.85,261.60L151.90,263.55L149.95,261.60Z" fill="#fff" stroke="#000" stroke-width="1.45"/>
<path d="M151.90,262.75L153.85,264.70L151.90,266.65L149.95,264.70Z" fill="#fff" stroke="#000" stroke-width="1.45"/>
<path d="M158.30,263.35L160.25,265.30L158.30,267.25L156.35,265.30Z" fill="#fff" stroke="#000" stroke-width="1.45"/>
<path d="M164.70,262.45L166.65,264.40L164.70,266.35L162.75,264.40Z" fill="#fff" stroke="#000" stroke-width="1.45"/>
<path d="M158.30,274.85L160.25,276.80L158.30,278.75L156.35,276.80Z" fill="#fff" stroke="#000" stroke-width="1.45"/>
<path d="M158.30,288.05L160.25,290.00L158.30,291.95L156.35,290.00Z" fill="#fff" stroke="#000" stroke-width="1.45"/>
<path d="M158.30,294.95L160.25,296.90L158.30,298.85L156.35,296.90Z" fill="#fff" stroke="#000" stroke-width="1.45"/>
<line x1="177.80" y1="256.00" x2="198.60" y2="256.00" stroke-width="1.7" />
<circle cx="181.80" cy="240.30" r="1.65" fill="#fff" stroke="#000" stroke-width="1.3"/>
<circle cx="187.80" cy="243.10" r="1.65" fill="#fff" stroke="#000" stroke-width="1.3"/>
<circle cx="194.20" cy="242.40" r="1.65" fill="#fff" stroke="#000" stroke-width="1.3"/>
<circle cx="181.80" cy="247.70" r="1.65" fill="#fff" stroke="#000" stroke-width="1.3"/>
<circle cx="191.00" cy="246.50" r="1.65" fill="#fff" stroke="#000" stroke-width="1.3"/>
<circle cx="194.50" cy="248.40" r="1.65" fill="#fff" stroke="#000" stroke-width="1.3"/>
<circle cx="181.80" cy="250.90" r="1.65" fill="#fff" stroke="#000" stroke-width="1.3"/>
<circle cx="188.00" cy="251.80" r="1.65" fill="#fff" stroke="#000" stroke-width="1.3"/>
<circle cx="181.80" cy="256.00" r="1.65" fill="#fff" stroke="#000" stroke-width="1.3"/>
<circle cx="194.50" cy="258.50" r="1.65" fill="#fff" stroke="#000" stroke-width="1.3"/>
<circle cx="187.90" cy="261.60" r="1.65" fill="#fff" stroke="#000" stroke-width="1.3"/>
<circle cx="182.00" cy="270.80" r="1.65" fill="#fff" stroke="#000" stroke-width="1.3"/>
<circle cx="187.90" cy="269.80" r="1.65" fill="#fff" stroke="#000" stroke-width="1.3"/>
<circle cx="194.50" cy="271.30" r="1.65" fill="#fff" stroke="#000" stroke-width="1.3"/>
<circle cx="187.90" cy="276.80" r="1.65" fill="#fff" stroke="#000" stroke-width="1.3"/>
<line x1="208.00" y1="242.10" x2="229.20" y2="242.10" stroke-width="1.7" />
<rect x="208.60" y="222.70" width="3.60" height="3.60" fill="#000" stroke="#000" stroke-width="0.7"/>
<rect x="220.10" y="220.90" width="3.60" height="3.60" fill="#000" stroke="#000" stroke-width="0.7"/>
<rect x="216.40" y="227.80" width="3.60" height="3.60" fill="#000" stroke="#000" stroke-width="0.7"/>
<rect x="212.20" y="235.10" width="3.60" height="3.60" fill="#000" stroke="#000" stroke-width="0.7"/>
<rect x="220.10" y="235.50" width="3.60" height="3.60" fill="#000" stroke="#000" stroke-width="0.7"/>
<rect x="215.00" y="238.80" width="3.60" height="3.60" fill="#000" stroke="#000" stroke-width="0.7"/>
<rect x="216.80" y="242.50" width="3.60" height="3.60" fill="#000" stroke="#000" stroke-width="0.7"/>
<rect x="211.30" y="243.40" width="3.60" height="3.60" fill="#000" stroke="#000" stroke-width="0.7"/>
<rect x="219.60" y="244.30" width="3.60" height="3.60" fill="#000" stroke="#000" stroke-width="0.7"/>
<rect x="208.60" y="247.00" width="3.60" height="3.60" fill="#000" stroke="#000" stroke-width="0.7"/>
<rect x="220.10" y="247.00" width="3.60" height="3.60" fill="#000" stroke="#000" stroke-width="0.7"/>
<rect x="215.90" y="248.80" width="3.60" height="3.60" fill="#000" stroke="#000" stroke-width="0.7"/>
<rect x="216.40" y="256.20" width="3.60" height="3.60" fill="#000" stroke="#000" stroke-width="0.7"/>
<rect x="214.70" y="241.70" width="3.60" height="3.60" fill="#000" stroke="#000" stroke-width="0.7"/>
<rect x="216.70" y="244.70" width="3.60" height="3.60" fill="#000" stroke="#000" stroke-width="0.7"/>
<rect x="218.20" y="241.70" width="3.60" height="3.60" fill="#000" stroke="#000" stroke-width="0.7"/>
<rect x="214.70" y="245.70" width="3.60" height="3.60" fill="#000" stroke="#000" stroke-width="0.7"/>
<rect x="211.70" y="246.20" width="3.60" height="3.60" fill="#000" stroke="#000" stroke-width="0.7"/>
<rect x="217.20" y="239.20" width="3.60" height="3.60" fill="#000" stroke="#000" stroke-width="0.7"/>
<rect x="214.00" y="238.70" width="3.60" height="3.60" fill="#000" stroke="#000" stroke-width="0.7"/>
<rect x="217.70" y="247.70" width="3.60" height="3.60" fill="#000" stroke="#000" stroke-width="0.7"/>
<text x="260.10" y="191.40" font-size="17.5" font-weight="bold" text-anchor="start" >D</text>
<line x1="331.00" y1="198.60" x2="331.00" y2="216.80" stroke-width="1.6" stroke-linecap="square"/>
<line x1="328.20" y1="198.60" x2="331.00" y2="198.60" stroke-width="1.3" />
<text x="326.90" y="202.60" font-size="11" font-weight="normal" text-anchor="end" >3000</text>
<line x1="328.20" y1="213.40" x2="331.00" y2="213.40" stroke-width="1.3" />
<text x="326.90" y="217.40" font-size="11" font-weight="normal" text-anchor="end" >2000</text>
<line x1="329.40" y1="216.80" x2="333.70" y2="216.80" stroke-width="1.4" />
<line x1="330.40" y1="224.20" x2="330.40" y2="326.40" stroke-width="1.6" stroke-linecap="square"/>
<line x1="327.90" y1="224.20" x2="333.70" y2="224.20" stroke-width="1.4" />
<line x1="327.00" y1="326.40" x2="330.40" y2="326.40" stroke-width="1.3" />
<line x1="327.00" y1="300.85" x2="330.40" y2="300.85" stroke-width="1.3" />
<line x1="327.00" y1="275.30" x2="330.40" y2="275.30" stroke-width="1.3" />
<line x1="327.00" y1="249.75" x2="330.40" y2="249.75" stroke-width="1.3" />
<text x="326.70" y="330.40" font-size="11" font-weight="normal" text-anchor="end" >0</text>
<text x="326.70" y="304.85" font-size="11" font-weight="normal" text-anchor="end" >200</text>
<text x="326.70" y="279.30" font-size="11" font-weight="normal" text-anchor="end" >400</text>
<text x="326.70" y="253.75" font-size="11" font-weight="normal" text-anchor="end" >600</text>
<text x="326.70" y="228.20" font-size="11" font-weight="normal" text-anchor="end" >800</text>
<line x1="330.40" y1="326.40" x2="510.00" y2="326.40" stroke-width="1.6" />
<text x="346.20" y="340.20" font-size="11" font-weight="normal" text-anchor="middle" >P1</text>
<text x="375.92" y="340.20" font-size="11" font-weight="normal" text-anchor="middle" >P3</text>
<text x="405.64" y="340.20" font-size="11" font-weight="normal" text-anchor="middle" >P7</text>
<text x="435.36" y="340.20" font-size="11" font-weight="normal" text-anchor="middle" >P10</text>
<text x="465.08" y="340.20" font-size="11" font-weight="normal" text-anchor="middle" >P14</text>
<text x="494.80" y="340.20" font-size="11" font-weight="normal" text-anchor="middle" >adult</text>
<text x="420.60" y="355.80" font-size="14.2" font-weight="bold" text-anchor="middle" >Day of life</text>
<text transform="translate(273.80,316.80) rotate(-90) scale(1.01,1)" font-size="14.2" font-weight="bold" text-anchor="start">Total plt number</text>
<text transform="translate(294.00,314.60) rotate(-90) scale(0.99,1)" font-size="14.2" font-weight="normal" text-anchor="start">(x10<tspan font-size="9.5" dy="-7">6</tspan><tspan dy="7"> per mouse)</tspan></text>
<rect x="335.90" y="318.80" width="20.60" height="7.60" fill="#000"/>
<line x1="346.20" y1="317.30" x2="346.20" y2="318.80" stroke-width="1.6" />
<line x1="340.80" y1="317.30" x2="351.60" y2="317.30" stroke-width="1.6" />
<rect x="365.62" y="314.00" width="20.60" height="12.40" fill="#000"/>
<line x1="375.92" y1="310.60" x2="375.92" y2="314.00" stroke-width="1.6" />
<line x1="370.52" y1="310.60" x2="381.32" y2="310.60" stroke-width="1.6" />
<rect x="395.34" y="300.60" width="20.60" height="25.80" fill="#000"/>
<line x1="405.64" y1="289.90" x2="405.64" y2="300.60" stroke-width="1.6" />
<line x1="400.24" y1="289.90" x2="411.04" y2="289.90" stroke-width="1.6" />
<rect x="425.06" y="254.00" width="20.60" height="72.40" fill="#000"/>
<line x1="435.36" y1="232.70" x2="435.36" y2="254.00" stroke-width="1.6" />
<line x1="429.96" y1="232.70" x2="440.76" y2="232.70" stroke-width="1.6" />
<rect x="454.78" y="251.90" width="20.60" height="74.50" fill="#000"/>
<line x1="465.08" y1="241.20" x2="465.08" y2="251.90" stroke-width="1.6" />
<line x1="459.68" y1="241.20" x2="470.48" y2="241.20" stroke-width="1.6" />
<rect x="484.50" y="223.60" width="20.60" height="102.80" fill="#000"/>
<rect x="484.50" y="209.20" width="20.60" height="8.50" fill="#000"/>
<line x1="494.80" y1="206.30" x2="494.80" y2="209.20" stroke-width="1.6" />
<line x1="489.40" y1="206.30" x2="500.20" y2="206.30" stroke-width="1.6" />
<text x="0.10" y="384.50" font-size="17.5" font-weight="bold" text-anchor="start" >E</text>
<line x1="53.40" y1="393.40" x2="53.40" y2="528.80" stroke-width="1.6" stroke-linecap="square"/>
<line x1="49.80" y1="528.80" x2="53.40" y2="528.80" stroke-width="1.3" />
<text x="49.60" y="532.80" font-size="11.5" font-weight="normal" text-anchor="end" >0</text>
<line x1="49.80" y1="501.72" x2="53.40" y2="501.72" stroke-width="1.3" />
<text x="49.60" y="505.72" font-size="11.5" font-weight="normal" text-anchor="end" >2</text>
<line x1="49.80" y1="474.64" x2="53.40" y2="474.64" stroke-width="1.3" />
<text x="49.60" y="478.64" font-size="11.5" font-weight="normal" text-anchor="end" >4</text>
<line x1="49.80" y1="447.56" x2="53.40" y2="447.56" stroke-width="1.3" />
<text x="49.60" y="451.56" font-size="11.5" font-weight="normal" text-anchor="end" >6</text>
<line x1="49.80" y1="420.48" x2="53.40" y2="420.48" stroke-width="1.3" />
<text x="49.60" y="424.48" font-size="11.5" font-weight="normal" text-anchor="end" >8</text>
<line x1="49.80" y1="393.40" x2="53.40" y2="393.40" stroke-width="1.3" />
<text x="49.60" y="397.40" font-size="11.5" font-weight="normal" text-anchor="end" >10</text>
<line x1="53.40" y1="528.80" x2="243.80" y2="528.80" stroke-width="1.6" stroke-linecap="square"/>
<line x1="72.10" y1="528.80" x2="72.10" y2="532.30" stroke-width="1.3" />
<text x="72.10" y="542.50" font-size="11" font-weight="normal" text-anchor="middle" >P1</text>
<line x1="104.02" y1="528.80" x2="104.02" y2="532.30" stroke-width="1.3" />
<text x="104.02" y="542.50" font-size="11" font-weight="normal" text-anchor="middle" >P3</text>
<line x1="135.94" y1="528.80" x2="135.94" y2="532.30" stroke-width="1.3" />
<text x="135.94" y="542.50" font-size="11" font-weight="normal" text-anchor="middle" >P7</text>
<line x1="167.86" y1="528.80" x2="167.86" y2="532.30" stroke-width="1.3" />
<text x="167.86" y="542.50" font-size="11" font-weight="normal" text-anchor="middle" >P10</text>
<line x1="199.78" y1="528.80" x2="199.78" y2="532.30" stroke-width="1.3" />
<text x="199.78" y="542.50" font-size="11" font-weight="normal" text-anchor="middle" >P14</text>
<line x1="231.70" y1="528.80" x2="231.70" y2="532.30" stroke-width="1.3" />
<text x="231.70" y="542.50" font-size="11" font-weight="normal" text-anchor="middle" >adult</text>
<text x="150.40" y="559.60" font-size="14.2" font-weight="bold" text-anchor="middle" >Day of life</text>
<text transform="translate(23.90,531.00) rotate(-90) scale(1.05,1)" font-size="14.2" font-weight="bold" text-anchor="start">Mean plt volume <tspan font-weight="normal" dx="0.9">(fL)</tspan></text>
<polyline fill="none" stroke="#000" stroke-width="1.9" points="69.2,412.3 100.3,421.8 132.3,436.2 163.8,441.8 195.5,444.3"/>
<line x1="195.50" y1="444.30" x2="227.50" y2="437.00" stroke-width="1.9" stroke-dasharray="2.2,1.6"/>
<line x1="69.20" y1="408.40" x2="69.20" y2="410.05" stroke-width="1.3" />
<line x1="69.20" y1="414.55" x2="69.20" y2="417.20" stroke-width="1.3" />
<line x1="66.20" y1="408.40" x2="72.20" y2="408.40" stroke-width="1.5" />
<line x1="66.20" y1="417.20" x2="72.20" y2="417.20" stroke-width="1.5" />
<circle cx="69.20" cy="412.30" r="2.25" fill="none" stroke="#000" stroke-width="1.15"/>
<circle cx="100.30" cy="421.80" r="2.25" fill="none" stroke="#000" stroke-width="1.15"/>
<line x1="132.30" y1="429.50" x2="132.30" y2="433.95" stroke-width="1.3" />
<line x1="132.30" y1="438.45" x2="132.30" y2="442.80" stroke-width="1.3" />
<line x1="129.30" y1="429.50" x2="135.30" y2="429.50" stroke-width="1.5" />
<line x1="129.30" y1="442.80" x2="135.30" y2="442.80" stroke-width="1.5" />
<circle cx="132.30" cy="436.20" r="2.25" fill="none" stroke="#000" stroke-width="1.15"/>
<circle cx="163.80" cy="441.80" r="2.25" fill="none" stroke="#000" stroke-width="1.15"/>
<circle cx="195.50" cy="444.30" r="2.25" fill="none" stroke="#000" stroke-width="1.15"/>
<line x1="227.50" y1="434.60" x2="227.50" y2="434.75" stroke-width="1.3" />
<line x1="227.50" y1="439.25" x2="227.50" y2="439.60" stroke-width="1.3" />
<line x1="224.50" y1="434.60" x2="230.50" y2="434.60" stroke-width="1.5" />
<line x1="224.50" y1="439.60" x2="230.50" y2="439.60" stroke-width="1.5" />
<circle cx="227.50" cy="437.00" r="2.25" fill="none" stroke="#000" stroke-width="1.15"/>
<text x="260.10" y="384.50" font-size="17.5" font-weight="bold" text-anchor="start" >F</text>
<line x1="330.30" y1="398.00" x2="330.30" y2="416.30" stroke-width="1.6" stroke-linecap="square"/>
<line x1="327.30" y1="398.00" x2="330.30" y2="398.00" stroke-width="1.3" />
<text x="326.30" y="402.00" font-size="11" font-weight="normal" text-anchor="end" >20</text>
<line x1="327.30" y1="409.40" x2="330.30" y2="409.40" stroke-width="1.3" />
<text x="326.30" y="413.40" font-size="11" font-weight="normal" text-anchor="end" >15</text>
<line x1="328.30" y1="416.30" x2="332.70" y2="416.30" stroke-width="1.4" />
<line x1="329.90" y1="424.50" x2="329.90" y2="531.60" stroke-width="1.6" stroke-linecap="square"/>
<line x1="327.10" y1="424.50" x2="332.70" y2="424.50" stroke-width="1.4" />
<line x1="326.60" y1="531.60" x2="329.90" y2="531.60" stroke-width="1.3" />
<line x1="326.60" y1="513.75" x2="329.90" y2="513.75" stroke-width="1.3" />
<line x1="326.60" y1="495.90" x2="329.90" y2="495.90" stroke-width="1.3" />
<line x1="326.60" y1="478.05" x2="329.90" y2="478.05" stroke-width="1.3" />
<line x1="326.60" y1="460.20" x2="329.90" y2="460.20" stroke-width="1.3" />
<line x1="326.60" y1="442.35" x2="329.90" y2="442.35" stroke-width="1.3" />
<text x="326.00" y="535.60" font-size="11" font-weight="normal" text-anchor="end" >0</text>
<text x="326.00" y="517.75" font-size="11" font-weight="normal" text-anchor="end" >1</text>
<text x="326.00" y="499.90" font-size="11" font-weight="normal" text-anchor="end" >2</text>
<text x="326.00" y="482.05" font-size="11" font-weight="normal" text-anchor="end" >3</text>
<text x="326.00" y="464.20" font-size="11" font-weight="normal" text-anchor="end" >4</text>
<text x="326.00" y="446.35" font-size="11" font-weight="normal" text-anchor="end" >5</text>
<text x="326.00" y="428.50" font-size="11" font-weight="normal" text-anchor="end" >6</text>
<line x1="329.90" y1="531.60" x2="518.20" y2="531.60" stroke-width="1.6" />
<text x="346.00" y="545.70" font-size="11" font-weight="normal" text-anchor="middle" >P1</text>
<text x="377.20" y="545.70" font-size="11" font-weight="normal" text-anchor="middle" >P3</text>
<text x="408.40" y="545.70" font-size="11" font-weight="normal" text-anchor="middle" >P7</text>
<text x="439.60" y="545.70" font-size="11" font-weight="normal" text-anchor="middle" >P10</text>
<text x="470.80" y="545.70" font-size="11" font-weight="normal" text-anchor="middle" >P14</text>
<text x="502.00" y="545.70" font-size="11" font-weight="normal" text-anchor="middle" >adult</text>
<text x="422.30" y="559.80" font-size="14.2" font-weight="bold" text-anchor="middle" >Day of life</text>
<text transform="translate(284.40,492.60) rotate(-90) scale(1.026,1)" font-size="14.2" font-weight="bold" text-anchor="start">Plt mass</text>
<text transform="translate(303.60,512.40) rotate(-90) scale(1.026,1)" font-size="14.2" font-weight="normal" text-anchor="start">(&#181;L per mouse)</text>
<rect x="335.25" y="523.30" width="21.50" height="8.30" fill="#000"/>
<line x1="346.00" y1="521.00" x2="346.00" y2="523.30" stroke-width="1.6" />
<line x1="340.60" y1="521.00" x2="351.40" y2="521.00" stroke-width="1.6" />
<rect x="366.45" y="518.10" width="21.50" height="13.50" fill="#000"/>
<line x1="377.20" y1="514.20" x2="377.20" y2="518.10" stroke-width="1.6" />
<line x1="371.80" y1="514.20" x2="382.60" y2="514.20" stroke-width="1.6" />
<rect x="397.65" y="507.90" width="21.50" height="23.70" fill="#000"/>
<line x1="408.40" y1="496.90" x2="408.40" y2="507.90" stroke-width="1.6" />
<line x1="403.00" y1="496.90" x2="413.80" y2="496.90" stroke-width="1.6" />
<rect x="428.85" y="466.60" width="21.50" height="65.00" fill="#000"/>
<line x1="439.60" y1="447.60" x2="439.60" y2="466.60" stroke-width="1.6" />
<line x1="434.20" y1="447.60" x2="445.00" y2="447.60" stroke-width="1.6" />
<rect x="460.05" y="467.00" width="21.50" height="64.60" fill="#000"/>
<line x1="470.80" y1="457.10" x2="470.80" y2="467.00" stroke-width="1.6" />
<line x1="465.40" y1="457.10" x2="476.20" y2="457.10" stroke-width="1.6" />
<rect x="491.25" y="423.80" width="21.50" height="107.80" fill="#000"/>
<rect x="491.25" y="408.50" width="21.50" height="8.00" fill="#000"/>
<line x1="502.00" y1="404.80" x2="502.00" y2="408.50" stroke-width="1.6" />
<line x1="496.60" y1="404.80" x2="507.40" y2="404.80" stroke-width="1.6" />
</svg>
</body></html>
